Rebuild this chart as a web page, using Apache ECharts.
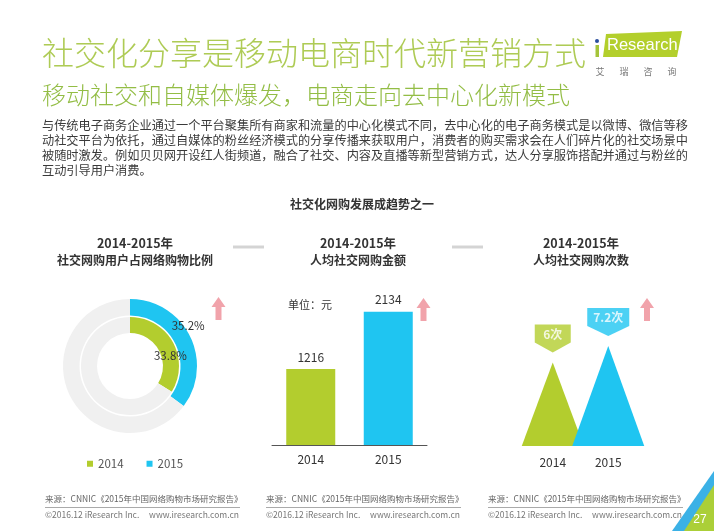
<!DOCTYPE html>
<html>
<head>
<meta charset="utf-8">
<script src="https://cdn.jsdelivr.net/npm/echarts@6/dist/echarts.min.js"></script>
<style>
html,body{margin:0;padding:0;background:#fff;}
#c{width:714px;height:531px;}
</style>
</head>
<body>
<div id="c"></div>
<script>
// ---- data ----
const pieYears = ['2014', '2015'];
const pieShare = [33.8, 35.2];            // 社交网购用户占网络购物比例 (%)
const spendYears = ['2014', '2015'];
const spendValues = [1216, 2134];         // 人均社交网购金额 (元)
const freqYears = ['2014', '2015'];
const freqValues = [6, 7.2];              // 人均社交网购次数
const panelTitles = ['社交网购用户占网络购物比例', '人均社交网购金额', '人均社交网购次数'];
const paragraphLines = [
  '与传统电子商务企业通过一个平台聚集所有商家和流量的中心化模式不同，去中心化的电子商务模式是以微博、微信等移',
  '动社交平台为依托，通过自媒体的粉丝经济模式的分享传播来获取用户，消费者的购买需求会在人们碎片化的社交场景中',
  '被随时激发。例如贝贝网开设红人街频道，融合了社交、内容及直播等新型营销方式，达人分享服饰搭配并通过与粉丝的',
  '互动引导用户消费。'
];

// ---- styles ----
const FONT = '"Noto Sans CJK SC", "Noto Sans", sans-serif';
const GREEN = '#b3cd2e';
const BLUE = '#1fc5f1';
const yearColors = [GREEN, BLUE];
const PINK = '#f1a3ab';

const chart = echarts.init(document.getElementById('c'), null, {renderer: 'canvas'});

function txt(x, y, text, opt) {
  return {
    type: 'text', x: x, y: y, silent: true,
    style: Object.assign({
      text: text, fontFamily: FONT, fontSize: 12, fill: '#333',
      textAlign: 'left', textVerticalAlign: 'middle'
    }, opt || {})
  };
}
function arrow(cx, y0) {
  return {
    type: 'polygon', silent: true,
    shape: {points: [[cx, y0], [cx + 7, y0 + 10], [cx + 3, y0 + 10], [cx + 3, y0 + 23],
                     [cx - 3, y0 + 23], [cx - 3, y0 + 10], [cx - 7, y0 + 10]]},
    style: {fill: PINK}
  };
}

const graphics = [];
// titles
graphics.push(txt(42, 53, '社交化分享是移动电商时代新营销方式', {fontSize: 32, fontWeight: 300, fill: '#aecb55'}));
graphics.push(txt(42, 95, '移动社交和自媒体爆发，电商走向去中心化新模式', {fontSize: 24, fontWeight: 300, fill: '#93bd45'}));
// logo
graphics.push({type: 'polygon', silent: true, shape: {points: [[606, 34], [682, 31], [677, 57], [603, 57]]}, style: {fill: '#b3cf2c'}});
graphics.push({type: 'circle', silent: true, shape: {cx: 597, cy: 41, r: 2}, style: {fill: '#2b4f9e'}});
graphics.push({type: 'rect', silent: true, shape: {x: 595.5, y: 45, width: 3.5, height: 12}, style: {fill: '#a5c43a'}});
graphics.push(txt(607, 45.5, 'Research', {fontFamily: '"Liberation Sans", Arial, sans-serif', fontSize: 16.5, fill: '#fff'}));
['艾', '瑞', '咨', '询'].forEach(function (c, i) {
  graphics.push(txt(600 + i * 24, 72, c, {fontSize: 9, fill: '#777', textAlign: 'center'}));
});
// paragraph
graphics.push({
  type: 'text', x: 42, y: 118, silent: true,
  style: {text: paragraphLines.join('\n'), fontFamily: FONT, fontSize: 12.2, lineHeight: 15,
          fill: '#3a3a3a', textAlign: 'left', textVerticalAlign: 'top'}
});
// section header
graphics.push(txt(362, 204, '社交化网购发展成趋势之一', {fontSize: 12, fontWeight: 'bold', textAlign: 'center'}));
graphics.push({type: 'line', silent: true, shape: {x1: 233, y1: 247, x2: 264, y2: 247}, style: {stroke: '#d4d4d4', lineWidth: 3}});
graphics.push({type: 'line', silent: true, shape: {x1: 452, y1: 247, x2: 483, y2: 247}, style: {stroke: '#d4d4d4', lineWidth: 3}});
// panel titles
[135, 358, 581].forEach(function (cx, i) {
  graphics.push(txt(cx, 243, '2014-2015年', {fontSize: 12.5, fontWeight: 'bold', textAlign: 'center'}));
  graphics.push(txt(cx, 260, panelTitles[i], {fontSize: 12, fontWeight: 'bold', textAlign: 'center'}));
});
// arrows
graphics.push(arrow(218.5, 297));
graphics.push(arrow(423.5, 298));
graphics.push(arrow(647, 298));
// unit label
graphics.push(txt(288, 305, '单位：元', {fontSize: 11, fill: '#333'}));
// footers
[45, 266, 488].forEach(function (x0) {
  graphics.push(txt(x0, 499, '来源：CNNIC《2015年中国网络购物市场研究报告》', {fontSize: 8.5, fill: '#666'}));
  graphics.push({type: 'line', silent: true, shape: {x1: x0, y1: 507.5, x2: x0 + 195, y2: 507.5}, style: {stroke: '#aaa', lineWidth: 1}});
  graphics.push(txt(x0, 515, '©2016.12 iResearch Inc.', {fontSize: 8.5, fill: '#777'}));
  graphics.push(txt(x0 + 194, 515, 'www.iresearch.com.cn', {fontSize: 8.5, fill: '#777', textAlign: 'right'}));
});
// corner decoration
graphics.push({type: 'polygon', silent: true, shape: {points: [[714, 471], [714, 487], [686, 531], [672, 531]]}, style: {fill: '#3bb1e6'}});
graphics.push({type: 'polygon', silent: true, shape: {points: [[714, 485], [714, 531], [684, 531]]}, style: {fill: '#abcf38'}});
graphics.push(txt(700, 520, '27', {fontSize: 12, fill: '#fff', textAlign: 'center', fontFamily: '"Liberation Sans", Arial, sans-serif'}));

function ringData(i) {
  return [
    {name: pieYears[i], value: pieShare[i], itemStyle: {color: yearColors[i]}, label: {show: true}},
    {name: '其他', value: +(100 - pieShare[i]).toFixed(1), itemStyle: {color: '#f0f0f0'}, label: {show: false}}
  ];
}

const option = {
  animation: false,
  backgroundColor: '#fff',
  textStyle: {fontFamily: FONT},
  graphic: graphics,
  legend: {
    data: pieYears.map(function (y, i) { return {name: y, itemStyle: {color: yearColors[i]}}; }),
    left: 82, top: 453, icon: 'rect', itemWidth: 6, itemHeight: 6, itemGap: 23,
    selectedMode: false,
    textStyle: {fontSize: 11.5, color: '#555', fontFamily: FONT}
  },
  grid: [
    {left: 272, width: 155, top: 289, bottom: 86},
    {left: 525, width: 111, top: 307, bottom: 85}
  ],
  xAxis: [
    {gridIndex: 0, type: 'category', data: spendYears,
     axisLine: {lineStyle: {color: '#555'}}, axisTick: {show: false},
     axisLabel: {color: '#333', fontSize: 12, margin: 8, fontFamily: FONT}},
    {gridIndex: 1, type: 'category', data: freqYears,
     axisLine: {show: false}, axisTick: {show: false},
     axisLabel: {color: '#333', fontSize: 12, margin: 10, fontFamily: FONT}}
  ],
  yAxis: [
    {gridIndex: 0, type: 'value', min: 0, max: 2500, show: false},
    {gridIndex: 1, type: 'value', min: 0, max: 10, show: false}
  ],
  series: [
    {
      type: 'pie', name: 'ringInner', center: [130, 366], radius: [33, 49], startAngle: 90,
      silent: true, data: ringData(0), labelLine: {show: false},
      label: {position: 'inside', formatter: '{c}%', color: '#333', fontSize: 11.5, fontFamily: FONT},
      labelLayout: {dx: 2, dy: 11}
    },
    {
      type: 'pie', name: 'ringOuter', center: [130, 366], radius: [50.5, 67], startAngle: 90,
      silent: true, data: ringData(1), labelLine: {show: false},
      label: {position: 'inside', formatter: '{c}%', color: '#333', fontSize: 11.5, fontFamily: FONT},
      labelLayout: {dx: 3, dy: -13}
    },
    {
      type: 'bar', name: 'spend', xAxisIndex: 0, yAxisIndex: 0, barWidth: 49, silent: true,
      data: spendValues.map(function (v, i) { return {value: v, itemStyle: {color: yearColors[i]}}; }),
      label: {show: true, position: 'top', distance: 6, color: '#333', fontSize: 12, fontFamily: FONT}
    },
    {
      type: 'pictorialBar', name: 'freq', xAxisIndex: 1, yAxisIndex: 1, symbol: 'triangle', silent: true,
      symbolPosition: 'start',
      data: freqValues.map(function (v, i) {
        return {value: v, symbolSize: [[62, 72][i], '100%'], itemStyle: {color: yearColors[i]}};
      })
    },
    {
      type: 'scatter', name: 'freqTag', xAxisIndex: 1, yAxisIndex: 1, silent: true, z: 5,
      symbol: 'path://M0,0 L36,0 L36,18 L18,28 L0,18 Z', symbolOffset: [0, -24],
      data: freqValues.map(function (v, i) {
        return {value: [freqYears[i], v], symbolSize: [[36, 42][i], 28], itemStyle: {color: yearColors[i]}};
      }),
      label: {show: true, position: 'inside', offset: [0, -4], color: '#fff', fontWeight: 'bold', fontSize: 12,
              fontFamily: FONT, formatter: function (p) { return p.value[1] + '次'; }}
    }
  ]
};
chart.setOption(option);
</script>
</body>
</html>
